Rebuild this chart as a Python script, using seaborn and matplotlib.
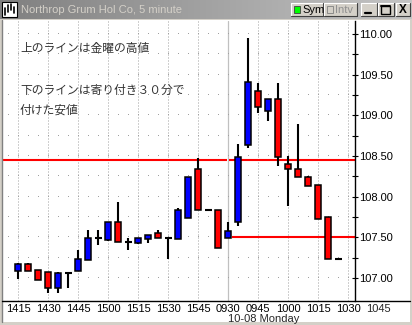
import numpy as np
import pandas as pd
import matplotlib
matplotlib.use("Agg")
import matplotlib.pyplot as plt
from matplotlib.patches import Rectangle
from matplotlib.colors import LinearSegmentedColormap
from matplotlib.lines import Line2D
import seaborn as sns

# ---------------- data ----------------
times = ["1415", "1420", "1425", "1430", "1435", "1440", "1445", "1450", "1455",
         "1500", "1505", "1510", "1515", "1520", "1525", "1530", "1535", "1540",
         "1545", "1550", "1555",
         "0930", "0935", "0940", "0945", "0950", "0955", "1000", "1005", "1010",
         "1015", "1020", "1025"]
opens = [107.09, 107.17, 107.10, 107.07, 106.88, 107.06, 107.09, 107.225, 107.49,
         107.467, 107.685, 107.44, 107.435, 107.48, 107.55, 107.495, 107.48, 107.74,
         108.34, 107.83, 107.83,
         107.495, 107.685, 108.639, 109.295, 109.05, 109.197, 108.398, 108.336, 108.24,
         108.14, 107.746, 107.233]
highs = [107.19, 107.19, 107.10, 107.07, 107.07, 107.06, 107.34, 107.59, 107.59,
         107.685, 107.93, 107.49, 107.49, 107.525, 107.59, 107.495, 107.86, 108.24,
         108.475, 107.83, 107.83,
         107.69, 108.65, 109.95, 109.40, 109.197, 109.40, 108.50, 108.89, 108.255,
         108.14, 107.746, 107.233]
lows = [106.99, 107.08, 106.97, 106.81, 106.82, 106.88, 107.09, 107.225, 107.405,
        107.46, 107.44, 107.34, 107.42, 107.435, 107.49, 107.23, 107.48, 107.74,
        107.83, 107.83, 107.37,
        107.495, 107.643, 108.60, 109.03, 108.93, 108.38, 107.88, 108.24, 108.13,
        107.73, 107.23, 107.233]
closes = [107.17, 107.09, 106.98, 106.88, 107.06, 107.06, 107.23, 107.49, 107.49,
          107.685, 107.44, 107.44, 107.49, 107.525, 107.49, 107.495, 107.83, 108.24,
          107.83, 107.83, 107.37,
          107.58, 108.484, 109.406, 109.10, 109.197, 108.49, 108.336, 108.24, 108.13,
          107.73, 107.23, 107.233]
friday_high = 108.45
open30_low = 107.51
x_tick_labels = ["1415", "1430", "1445", "1500", "1515", "1530", "1545",
                 "0930", "0945", "1000", "1015", "1030", "1045"]
y_ticks = [107.0, 107.5, 108.0, 108.5, 109.0, 109.5, 110.0]
title = "Northrop Grum Hol Co, 5 minute"
note1 = "上のラインは金曜の高値"
note2 = "下のラインは寄り付き３０分で"
note3 = "付けた安値"
date_label = "10-08 Monday"

# ---------------- helpers ----------------
def slot(label):
    m = int(label[:2]) * 60 + int(label[2:])
    if m >= 14 * 60:
        return (m - (14 * 60 + 15)) / 5
    return 21 + (m - 570) / 5

df = pd.DataFrame({"time": times, "open": opens, "high": highs,
                   "low": lows, "close": closes})
df["pos"] = [slot(t) for t in df["time"]]
session_break = slot("0930")

W, H = 412, 325
sns.set_style("white")
plt.rcParams["font.family"] = ["Liberation Sans Narrow", "Liberation Sans", "DejaVu Sans"]

fig = plt.figure(figsize=(W / 100, H / 100), dpi=100, facecolor="#d4d0c8")

def fx(x):
    return x / W

def fy(y):
    return 1 - y / H

# window client area
fig.add_artist(Rectangle((fx(2), fy(322)), fx(408), (320 - 20 + 2) / H,
                         transform=fig.transFigure, facecolor="white",
                         edgecolor="none", zorder=0))
fig.add_artist(Line2D([fx(1.5), fx(1.5)], [fy(20), fy(322)], color="#808080",
                      lw=1.0, transform=fig.transFigure))

# ---------------- main chart ----------------
ax = fig.add_axes([fx(3), fy(301), (355 - 3) / W, (301 - 21) / H])
ax.set_facecolor("none")
ax.set_xlim(-1.53, 33.67)
ax.set_ylim(106.717, 110.16)
for s in ["left", "top", "bottom"]:
    ax.spines[s].set_visible(False)
ax.spines["right"].set_color("black")
ax.spines["right"].set_linewidth(1.0)

# grid
for t in x_tick_labels:
    p = slot(t)
    if p == session_break:
        ax.axvline(p, color="#c0c0c0", lw=0.9, zorder=1)
    elif p <= 33.67:
        ax.axvline(p, color="#a0a0a0", lw=0.72, ls=(0, (1, 2)), zorder=1)
gx, gy = np.meshgrid(np.arange(-1, 34), np.arange(107.0, 110.01, 0.25))
ax.plot(gx.ravel(), gy.ravel(), ",", color="#a0a0a0", zorder=1)

# reference lines
ax.hlines(friday_high, -1.53, session_break - 0.16, color="#ff0000", lw=1.5, zorder=2)
ax.hlines(friday_high, session_break + 0.07, 33.67, color="#ff0000", lw=1.5, zorder=2)
ax.hlines(open30_low, session_break + 0.34, 33.67, color="#ff0000", lw=1.5, zorder=2)

# wicks
ax.vlines(df["pos"], df["low"], df["high"], color="black", lw=1.5, zorder=3)
# bodies
body = df[df["close"] != df["open"]]
colors = np.where(body["close"] > body["open"], "#0000ff", "#ff0000")
ax.bar(body["pos"], body["close"] - body["open"], bottom=body["open"], width=0.6,
       color=colors, edgecolor="black", linewidth=1.1, zorder=4)
flat = df[df["close"] == df["open"]]
ax.hlines(flat["open"], flat["pos"] - 0.35, flat["pos"] + 0.35, color="black",
          lw=1.5, zorder=4)

# y axis on right
ax.yaxis.tick_right()
ax.set_yticks(y_ticks)
ax.set_yticklabels([f"{v:.2f}" for v in y_ticks])
ax.set_yticks(np.arange(107.0, 110.01, 0.25), minor=True)
ax.tick_params(axis="y", which="both", direction="inout", length=4, width=0.8,
               pad=1, labelsize=8, colors="black", right=True, left=False)

# x axis labels
xt = [slot(t) for t in x_tick_labels if slot(t) <= 33.67]
ax.set_xticks(xt)
ax.set_xticklabels([t for t in x_tick_labels if slot(t) <= 33.67])
ax.tick_params(axis="x", length=0, pad=2, labelsize=8, colors="black")
trans = ax.get_xaxis_transform()
for t in x_tick_labels:
    if slot(t) > 33.67:
        ax.text(slot(t), -2.78 / 280, t, transform=trans, ha="center", va="top",
                fontsize=8, clip_on=False)
ax.text(session_break - 0.02, -12.5 / 280, date_label, transform=trans, ha="left",
        va="top", fontsize=8, clip_on=False)

fig.add_artist(Line2D([fx(2), fx(410)], [fy(301), fy(301)], color="black",
                      lw=1.0, transform=fig.transFigure))

# notes
jp = ["Noto Sans CJK JP", "DejaVu Sans"]
for txt, yy in [(note1, 48.5), (note2, 90), (note3, 110)]:
    fig.text(fx(20), fy(yy), txt, ha="left", va="center", fontsize=8.5,
             family=jp, color="#333333")

# ---------------- title bar ----------------
tb = fig.add_axes([0, fy(19.5), 1, 19.5 / H])
cmap = LinearSegmentedColormap.from_list("tb", ["#808080", "#c4c4c4"])
tb.imshow(np.linspace(0, 1, 256)[None, :], cmap=cmap, aspect="auto",
          extent=[0, W, 19.5, 0])
tb.set_xlim(0, W)
tb.set_ylim(19.5, 0)
tb.axis("off")

# icon
tb.add_patch(Rectangle((2, 2), 15, 15, facecolor="white", edgecolor="black", lw=0.8))
for bx, b0, b1 in [(5, 8, 15), (8, 5, 12), (11, 4, 10), (14, 7, 13)]:
    tb.plot([bx, bx], [b0, b1], color="black", lw=1.2)
tb.text(21, 10, title, ha="left", va="center", fontsize=8, color="#d4d0c8",
        family=["Liberation Sans", "DejaVu Sans"])

def button(x0, x1, y0=3, y1=16):
    tb.add_patch(Rectangle((x0, y0), x1 - x0, y1 - y0, facecolor="#d4d0c8",
                           edgecolor="none"))
    tb.plot([x0, x1], [y0, y0], color="white", lw=0.8)
    tb.plot([x0, x0], [y0, y1], color="white", lw=0.8)
    tb.plot([x0, x1], [y1, y1], color="#404040", lw=0.8)
    tb.plot([x1, x1], [y0, y1], color="#404040", lw=0.8)

button(291, 323)
tb.add_patch(Rectangle((294, 6), 6, 7, facecolor="#00ff00", edgecolor="#404040", lw=0.6))
tb.text(302, 9.8, "Sym", ha="left", va="center", fontsize=8, color="black",
        family=["Liberation Sans", "DejaVu Sans"])
button(324, 357)
tb.add_patch(Rectangle((327, 6), 6, 7, facecolor="#d4d0c8", edgecolor="#808080", lw=0.6))
tb.text(335, 9.8, "Intv", ha="left", va="center", fontsize=8, color="#909090",
        family=["Liberation Sans", "DejaVu Sans"])
button(361, 377)
tb.plot([365, 371], [13, 13], color="black", lw=1.6)
button(378, 394)
tb.add_patch(Rectangle((381.5, 5.5), 9, 8, facecolor="none", edgecolor="black", lw=1.0))
tb.plot([381.5, 390.5], [6.2, 6.2], color="black", lw=1.4)
button(396, 410)
tb.text(403, 9.8, "X", ha="center", va="center", fontsize=8.5, color="black",
        fontweight="bold", family=["Liberation Sans", "DejaVu Sans"])

fig.savefig("out.png", dpi=100, facecolor=fig.get_facecolor())
